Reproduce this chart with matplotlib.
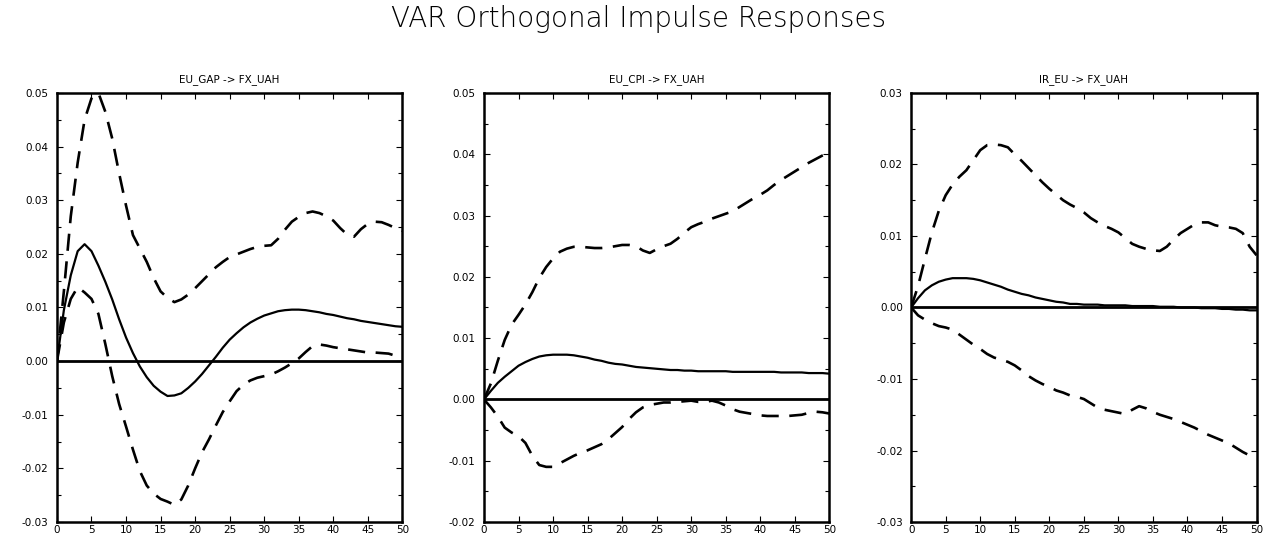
import numpy as np
import matplotlib
matplotlib.use("Agg")
import matplotlib.pyplot as plt
from matplotlib.ticker import MultipleLocator

horizon = list(range(51))

# EU_GAP -> FX_UAH
gap_irf = [0.0, 0.0095, 0.0160, 0.0205, 0.0218, 0.0205, 0.0178, 0.0148, 0.0115, 0.0078,
           0.0044, 0.0015, -0.0010, -0.0030, -0.0046, -0.0057, -0.0065, -0.0064, -0.0060, -0.0050,
           -0.0038, -0.0024, -0.0008, 0.0008, 0.0025, 0.0040, 0.0052, 0.0063, 0.0072, 0.0079,
           0.0085, 0.0089, 0.0093, 0.0095, 0.0096, 0.0096, 0.0095, 0.0093, 0.0091, 0.0088,
           0.0086, 0.0083, 0.0080, 0.0078, 0.0075, 0.0073, 0.0071, 0.0069, 0.0067, 0.0065, 0.0064]
gap_upper = [0.0, 0.0130, 0.0270, 0.0370, 0.0450, 0.0490, 0.0500, 0.0465, 0.0415, 0.0350,
             0.0290, 0.0235, 0.0210, 0.0185, 0.0155, 0.0130, 0.0118, 0.0110, 0.0115, 0.0124,
             0.0136, 0.0149, 0.0162, 0.0175, 0.0185, 0.0194, 0.0199, 0.0204, 0.0209, 0.0213,
             0.0215, 0.0216, 0.0228, 0.0245, 0.0260, 0.0269, 0.0276, 0.0279, 0.0276, 0.0270,
             0.0262, 0.0248, 0.0236, 0.0232, 0.0246, 0.0256, 0.0260, 0.0259, 0.0254, 0.0248, 0.0243]
gap_lower = [0.0, 0.0072, 0.0116, 0.0138, 0.0128, 0.0116, 0.0088, 0.0032, -0.0028, -0.0080,
             -0.0122, -0.0165, -0.0205, -0.0232, -0.0247, -0.0257, -0.0262, -0.0268, -0.0258, -0.0232,
             -0.0200, -0.0170, -0.0146, -0.0120, -0.0095, -0.0075, -0.0056, -0.0044, -0.0036, -0.0031,
             -0.0028, -0.0025, -0.0019, -0.0012, -0.0004, 0.0005, 0.0017, 0.0028, 0.0031, 0.0029,
             0.0026, 0.0024, 0.0022, 0.0020, 0.0018, 0.0016, 0.0016, 0.0015, 0.0014, 0.0010, 0.0007]

# EU_CPI -> FX_UAH
cpi_irf = [0.0, 0.0014, 0.0027, 0.0037, 0.0046, 0.0055, 0.0061, 0.0066, 0.0070, 0.0072,
           0.0073, 0.0073, 0.0073, 0.0072, 0.0070, 0.0068, 0.0065, 0.0063, 0.0060, 0.0058,
           0.0057, 0.0055, 0.0053, 0.0052, 0.0051, 0.0050, 0.0049, 0.0048, 0.0048, 0.0047,
           0.0047, 0.0046, 0.0046, 0.0046, 0.0046, 0.0046, 0.0045, 0.0045, 0.0045, 0.0045,
           0.0045, 0.0045, 0.0045, 0.0044, 0.0044, 0.0044, 0.0044, 0.0043, 0.0043, 0.0043, 0.0042]
cpi_upper = [0.0, 0.0026, 0.0063, 0.0097, 0.0122, 0.0138, 0.0155, 0.0175, 0.0198, 0.0216,
             0.0230, 0.0241, 0.0246, 0.0249, 0.0249, 0.0248, 0.0247, 0.0247, 0.0248, 0.0250,
             0.0252, 0.0252, 0.0250, 0.0243, 0.0239, 0.0245, 0.0250, 0.0254, 0.0262, 0.0272,
             0.0281, 0.0286, 0.0290, 0.0295, 0.0299, 0.0303, 0.0307, 0.0314, 0.0321, 0.0328,
             0.0334, 0.0341, 0.0350, 0.0358, 0.0365, 0.0372, 0.0379, 0.0386, 0.0392, 0.0398, 0.0403]
cpi_lower = [0.0, -0.0013, -0.0028, -0.0046, -0.0054, -0.0060, -0.0071, -0.0092, -0.0107, -0.0110,
             -0.0110, -0.0104, -0.0098, -0.0092, -0.0087, -0.0083, -0.0078, -0.0073, -0.0065, -0.0055,
             -0.0045, -0.0032, -0.0021, -0.0013, -0.0009, -0.0007, -0.0005, -0.0005, -0.0004, -0.0003,
             -0.0002, -0.0004, -0.0004, -0.0002, -0.0005, -0.0010, -0.0016, -0.0020, -0.0022, -0.0024,
             -0.0026, -0.0027, -0.0027, -0.0027, -0.0027, -0.0026, -0.0025, -0.0022, -0.0020, -0.0021, -0.0023]

# IR_EU -> FX_UAH
ir_irf = [0.0, 0.0013, 0.0024, 0.0031, 0.0036, 0.0039, 0.0041, 0.0041, 0.0041, 0.0040,
          0.0038, 0.0035, 0.0032, 0.0029, 0.0025, 0.0022, 0.0019, 0.0017, 0.0014, 0.0012,
          0.0010, 0.0008, 0.0007, 0.0005, 0.0005, 0.0004, 0.0004, 0.0004, 0.0003, 0.0003,
          0.0003, 0.0003, 0.0002, 0.0002, 0.0002, 0.0002, 0.0001, 0.0001, 0.0001, 0.0000,
          0.0000, 0.0000, -0.0001, -0.0001, -0.0001, -0.0002, -0.0002, -0.0003, -0.0003, -0.0004, -0.0004]
ir_upper = [0.0, 0.0030, 0.0068, 0.0105, 0.0135, 0.0157, 0.0172, 0.0183, 0.0192, 0.0206,
            0.0220, 0.0227, 0.0228, 0.0227, 0.0224, 0.0214, 0.0205, 0.0195, 0.0185, 0.0175,
            0.0166, 0.0158, 0.0150, 0.0144, 0.0139, 0.0133, 0.0125, 0.0119, 0.0114, 0.0110,
            0.0105, 0.0097, 0.0089, 0.0085, 0.0082, 0.0080, 0.0079, 0.0085, 0.0095, 0.0104,
            0.0110, 0.0116, 0.0119, 0.0119, 0.0115, 0.0113, 0.0112, 0.0110, 0.0104, 0.0085, 0.0073]
ir_lower = [0.0, -0.0011, -0.0017, -0.0022, -0.0026, -0.0028, -0.0031, -0.0038, -0.0045, -0.0052,
            -0.0058, -0.0065, -0.0070, -0.0073, -0.0076, -0.0081, -0.0088, -0.0096, -0.0102, -0.0107,
            -0.0111, -0.0116, -0.0119, -0.0123, -0.0125, -0.0128, -0.0134, -0.0140, -0.0143, -0.0145,
            -0.0147, -0.0149, -0.0143, -0.0138, -0.0141, -0.0146, -0.0150, -0.0153, -0.0156, -0.0160,
            -0.0164, -0.0168, -0.0173, -0.0178, -0.0182, -0.0186, -0.0190, -0.0196, -0.0202, -0.0207, -0.0212]

titles = ["EU_GAP -> FX_UAH", "EU_CPI -> FX_UAH", "IR_EU -> FX_UAH"]
responses = [gap_irf, cpi_irf, ir_irf]
uppers = [gap_upper, cpi_upper, ir_upper]
lowers = [gap_lower, cpi_lower, ir_lower]
ylims = [(-0.03, 0.05), (-0.02, 0.05), (-0.03, 0.03)]
lefts = [0.0446, 0.379, 0.7135]

fig = plt.figure(figsize=(12.77, 5.33), dpi=100)
fig.text(0.5, 0.965, "VAR Orthogonal Impulse Responses", ha="center", va="center",
         fontsize=20, fontweight="light", color="black")

for i in range(3):
    ax = fig.add_axes([lefts[i], 0.0206, 0.2705, 0.805])
    ax.axhline(0, color="black", lw=2.0, zorder=1)
    ax.plot(horizon, responses[i], color="black", lw=1.6, zorder=3)
    ax.plot(horizon, uppers[i], color="black", lw=1.9, dashes=(6.5, 4), zorder=2)
    ax.plot(horizon, lowers[i], color="black", lw=1.9, dashes=(6.5, 4), zorder=2)
    ax.set_xlim(0, 50)
    ax.set_ylim(*ylims[i])
    ax.set_title(titles[i], fontsize=7.5, pad=8)
    ax.xaxis.set_major_locator(MultipleLocator(5))
    ax.yaxis.set_major_locator(MultipleLocator(0.01))
    ax.yaxis.set_minor_locator(MultipleLocator(0.005))
    ax.yaxis.set_major_formatter(plt.FormatStrFormatter("%.2f"))
    ax.tick_params(axis="both", which="both", direction="in", top=True, right=True,
                   labelsize=7.5, width=0.8)
    ax.tick_params(axis="both", which="major", length=4)
    ax.tick_params(axis="both", which="minor", length=3)
    ax.tick_params(axis="x", pad=2)
    ax.tick_params(axis="y", pad=6)
    for s in ax.spines.values():
        s.set_linewidth(1.8)

fig.savefig("out.png", dpi=100)
